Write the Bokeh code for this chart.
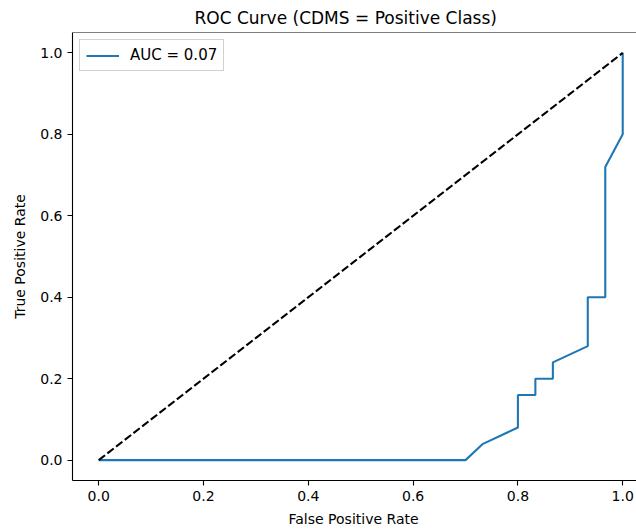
from bokeh.plotting import figure
from bokeh.models import (Range1d, FixedTicker, Legend, LegendItem,
                          Span, Title, PrintfTickFormatter)
from bokeh.embed import file_html
from bokeh.resources import INLINE

# ROC curve data (CDMS = positive class)
fpr = [0.0, 0.7, 0.7333, 0.8, 0.8, 0.8333, 0.8333, 0.8667, 0.8667, 0.9333, 0.9333, 0.9667, 0.9667, 1.0, 1.0]
tpr = [0.0, 0.0, 0.04, 0.08, 0.16, 0.16, 0.2, 0.2, 0.24, 0.28, 0.4, 0.4, 0.72, 0.8, 1.0]
chance_x = [0.0, 1.0]
chance_y = [0.0, 1.0]
auc_label = "AUC = 0.07"
ticks = [0.0, 0.2, 0.4, 0.6, 0.8, 1.0]

FONT = "DejaVu Sans"

p = figure(width=636, height=531, output_backend="svg", toolbar_location=None,
           x_range=Range1d(-0.05, 1.0263), y_range=Range1d(-0.05, 1.05),
           min_border_left=72, min_border_right=0, min_border_top=29, min_border_bottom=50)

p.title = Title(text="ROC Curve (CDMS = Positive Class)", align="left", offset=122,
                text_font=FONT, text_font_size="17px", text_font_style="normal",
                text_color="black")
p.add_layout(Title(text="False Positive Rate", align="left", offset=216,
                   text_font=FONT, text_font_size="14px", text_font_style="normal",
                   text_color="black"), "below")

p.outline_line_color = None
p.xgrid.visible = False
p.ygrid.visible = False
p.background_fill_color = "white"
p.border_fill_color = "white"

p.add_layout(Span(location=1.05, dimension="width", line_color="black", line_width=1.1))

for ax in (p.xaxis[0], p.yaxis[0]):
    ax.ticker = FixedTicker(ticks=ticks)
    ax.formatter = PrintfTickFormatter(format="%.1f")
    ax.axis_line_color = "black"
    ax.axis_line_width = 1.1
    ax.major_tick_line_color = "black"
    ax.major_tick_line_width = 1.1
    ax.major_tick_out = 5
    ax.major_tick_in = 0
    ax.minor_tick_line_color = None
    ax.major_label_text_font = FONT
    ax.major_label_text_font_size = "14px"
    ax.major_label_text_color = "black"
    ax.major_label_standoff = 5
    ax.axis_label_text_font = FONT
    ax.axis_label_text_font_size = "14px"
    ax.axis_label_text_font_style = "normal"
    ax.axis_label_text_color = "black"

p.yaxis[0].axis_label = "True Positive Rate"
p.yaxis[0].axis_label_standoff = 9

roc = p.line(fpr, tpr, line_color="#1f77b4", line_width=2.1)
p.line(chance_x, chance_y, line_color="black", line_width=2.1, line_dash="8 3")

legend = Legend(items=[LegendItem(label=auc_label, renderers=[roc])],
                location="top_left", margin=7, padding=6, spacing=0,
                glyph_width=33, glyph_height=15, label_standoff=11, label_height=15,
                label_text_font=FONT, label_text_font_size="15px", label_text_color="black",
                border_line_color="#cccccc", border_line_width=1, border_line_alpha=0.9,
                background_fill_alpha=0.8)
p.add_layout(legend)

open("out.html", "w").write(file_html(p, INLINE))
